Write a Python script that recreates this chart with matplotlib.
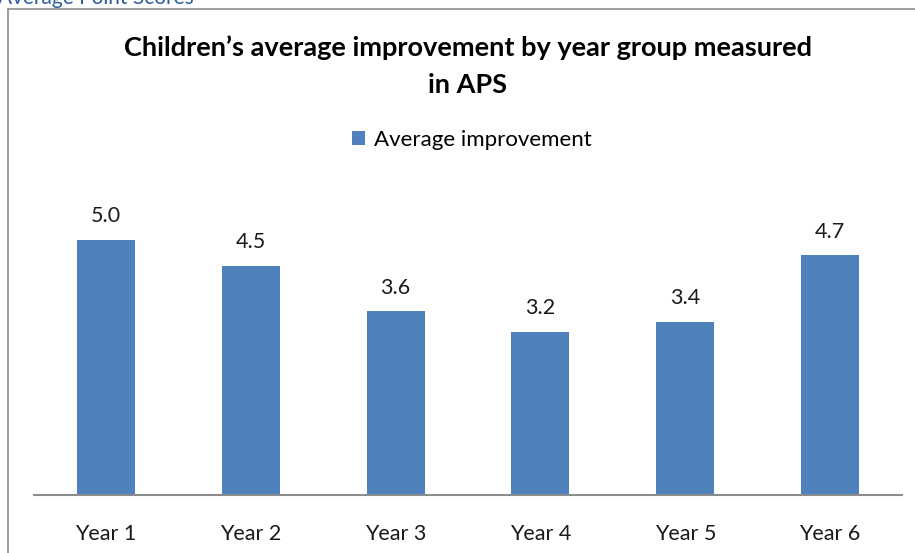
import matplotlib.pyplot as plt
import numpy as np

# data
years = ["Year 1", "Year 2", "Year 3", "Year 4", "Year 5", "Year 6"]
improvement = [5.0, 4.5, 3.6, 3.2, 3.4, 4.7]
value_labels = ["5.0", "4.5", "3.6", "3.2", "3.4", "4.7"]

plt.rcParams['font.family'] = ['Lato', 'DejaVu Sans']

W, H = 915, 553
fig = plt.figure(figsize=(W / 100, H / 100), dpi=100)

# axes placed in pixel terms
left, right, bottom, top = 33.5, 902.5, 495, 189
ax = fig.add_axes([left / W, (H - bottom) / H, (right - left) / W, (bottom - top) / H])

x = np.arange(len(years))
bars = ax.bar(x, improvement, width=0.4, color='#4F81BD', label='Average improvement')
for xi, v, lab in zip(x, improvement, value_labels):
    ax.text(xi, v + 0.27, lab, ha='center', va='bottom', fontsize=15.5, color='#1a1a1a')

ax.set_xlim(-0.5, len(years) - 0.5)
ax.set_ylim(0, 6)
ax.set_xticks(x)
ax.set_xticklabels(years, fontsize=15.5, color='#1a1a1a')
ax.tick_params(axis='x', length=0, pad=21)
ax.set_yticks([])
for s in ['top', 'right', 'left']:
    ax.spines[s].set_visible(False)
ax.spines['bottom'].set_color('#8c8c8c')
ax.spines['bottom'].set_linewidth(1.5)

# title and legend
fig.text(468 / W, 1 - 48 / H, "Children\u2019s average improvement by year group measured",
         ha='center', va='center', fontsize=19.5, fontweight='bold', color='black')
fig.text(468 / W, 1 - 85 / H, "in APS", ha='center', va='center', fontsize=19.5,
         fontweight='bold', color='black')
fig.legend(handles=[bars], labels=['Average improvement'], loc='center',
           bbox_to_anchor=(472 / W, 1 - 140 / H), frameon=False, fontsize=16,
           handlelength=0.6, handleheight=0.6, handletextpad=0.4)

# chart frame and cut-off heading
fig.add_artist(plt.Line2D([8 / W, 8 / W], [0, 1 - 9 / H], color='#8c8c8c', lw=1.2))
fig.add_artist(plt.Line2D([8 / W, 1], [1 - 9 / H, 1 - 9 / H], color='#8c8c8c', lw=1.2))
fig.text(-2 / W, 1 - 4 / H, "Average Point Scores", ha='left', va='baseline',
         fontsize=15, color='#2E5C9A')

fig.savefig('out.png', dpi=100)
